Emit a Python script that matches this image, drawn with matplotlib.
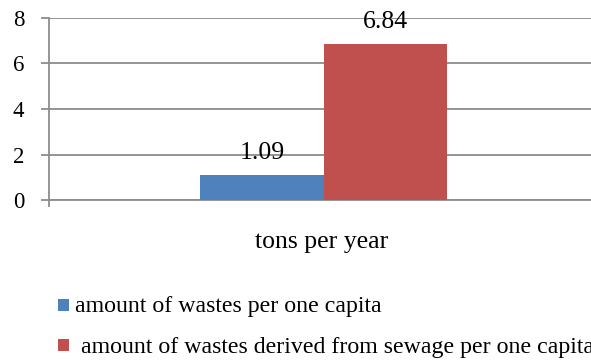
import matplotlib
matplotlib.use("Agg")
import matplotlib.pyplot as plt
from matplotlib.patches import Rectangle

categories = ["tons per year"]
series_names = [
    "amount of wastes per one capita",
    "amount of wastes derived from sewage per one capita",
]
series_values = [[1.09], [6.84]]
series_colors = ["#4F81BD", "#C0504D"]
y_ticks = [0, 2, 4, 6, 8]

plt.rcParams["font.family"] = ["Liberation Serif", "DejaVu Serif"]

W, H = 591, 360
fig = plt.figure(figsize=(W / 100, H / 100), dpi=100)
ax = fig.add_axes([49 / W, (H - 200.3) / H, 549 / W, 182.6 / H])

grid_color = "#8c8c8c"
bar_w = 0.225
offsets = [-bar_w / 2, bar_w / 2]
for vals, off, col in zip(series_values, offsets, series_colors):
    b = ax.bar([i + off for i in range(len(categories))], vals, width=bar_w,
               color=col, zorder=3)
    for rect, v in zip(b, vals):
        ax.annotate(f"{v:.2f}", (rect.get_x() + rect.get_width() / 2, v),
                    xytext=(0, 12), textcoords="offset points",
                    ha="center", va="baseline", fontsize=18.5, zorder=4)

ax.set_xlim(-0.5, 0.5)
ax.set_ylim(0, 8)
ax.set_yticks(y_ticks)
ax.set_yticklabels([str(t) for t in y_ticks])
ax.set_xticks([-0.5, 0.5])
ax.set_xticklabels([])
ax.tick_params(axis="x", length=5, width=1.3, color=grid_color, direction="out")
ax.tick_params(axis="y", length=5.8, width=1.3, color=grid_color, direction="out",
               labelsize=16.5, pad=12)
ax.yaxis.grid(True, color=grid_color, linewidth=1.3, zorder=0)
for side in ["top", "right"]:
    ax.spines[side].set_visible(False)
for side in ["left", "bottom"]:
    ax.spines[side].set_color(grid_color)
    ax.spines[side].set_linewidth(1.3)

# category label under the axis
fig.text(321.5 / W, 1 - 248 / H, categories[0], ha="center", va="baseline",
         fontsize=18.5)

# legend: colour square followed by the series name
legend_rows = [(299, 311.7, 75), (339, 353.3, 80.7)]
for (top, base, tx), name, col in zip(legend_rows, series_names, series_colors):
    fig.patches.append(Rectangle((58 / W, 1 - (top + 11.7) / H), 11.3 / W, 11.7 / H,
                                 transform=fig.transFigure, facecolor=col,
                                 edgecolor="none"))
    fig.text(tx / W, 1 - base / H, name, ha="left", va="baseline", fontsize=17.2)

fig.savefig("out.png", dpi=100)
